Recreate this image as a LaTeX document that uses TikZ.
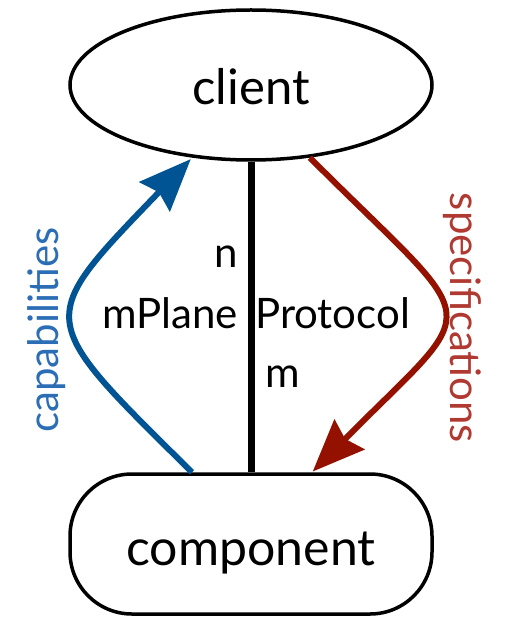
\documentclass[tikz,border=0pt]{standalone}
\usepackage{fontspec}
\setmainfont{Lato}
\usetikzlibrary{arrows.meta,shapes.geometric}
\definecolor{capblue}{HTML}{005493}
\definecolor{specred}{HTML}{941100}
\definecolor{captext}{HTML}{2C6EB6}
\definecolor{spectext}{HTML}{B03A32}
\begin{document}
\begin{tikzpicture}[x=1pt,y=-1pt,
  shapeline/.style={draw=black,line width=3.5pt},
  conn/.style={line width=7pt},
  flow/.style={line width=6pt,-{Stealth[length=52pt,width=42pt,inset=6pt]}},
  lbl/.style={inner sep=0pt,font=\fontsize{42}{50}\selectfont}]
\useasboundingbox (0,0) rectangle (505,617);
\node[ellipse,shapeline,minimum width=362pt,minimum height=150pt,font=\fontsize{49}{56}\selectfont,text height=40pt,text depth=0pt] (client) at (251,85) {client};
\node[rectangle,rounded corners=62pt,shapeline,minimum width=362pt,minimum height=140pt,font=\fontsize{50}{58}\selectfont,text height=44pt,text depth=2pt] (comp) at (251,544) {component};
\draw[conn] (client.south) -- (comp.north);
\coordinate (bstart) at ([xshift=-59pt]comp.north);
\coordinate (rend) at ([xshift=61pt]comp.north);
\draw[flow,capblue,shorten >=2pt] (bstart) .. controls (34,316) and (34,322) .. (client.231);
\draw[flow,specred,shorten >=1pt] (client.309) .. controls (486,334) and (486,297) .. (rend);
\node[lbl,anchor=base east] (n) at (238,267) {n};
\node[lbl,anchor=base east] (mplane) at (238,328) {mPlane};
\node[lbl,anchor=base west] (protocol) at (255,328) {Protocol};
\node[lbl,anchor=base west] (m) at (265,387) {m};
\node[lbl,rotate=90,text=captext] (cap) at (47,330) {capabilities};
\node[lbl,rotate=-90,text=spectext] (spec) at (462,318) {specifications};
\end{tikzpicture}
\end{document}
